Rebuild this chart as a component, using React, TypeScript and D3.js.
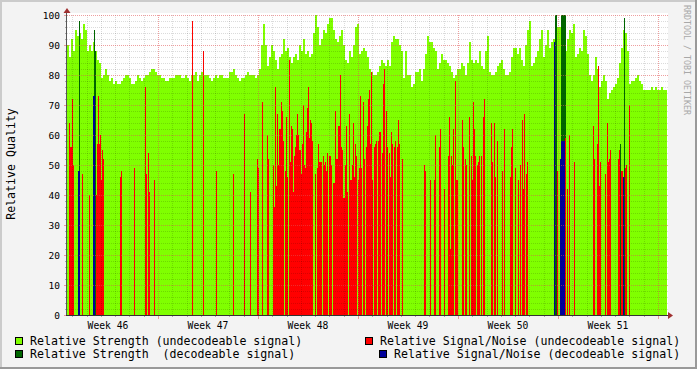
import React from "react";
import * as d3 from "d3";

const W = 697;
const H = 369;
const START_DAY = 0.63; // days after Monday 00:00 of week 46
const STEP_DAYS = 0.07; // one sample step
const BIN = 2; // strength samples cover two steps
const N_STEPS = 600;

// Relative Strength (undecodeable signal), one value per 2 steps
const strength = [
  90, 86, 92, 88, 95, 93, 94, 92, 97, 95,
  88, 90, 88, 91, 88, 85, 84, 79, 80, 82,
  80, 78, 79, 77, 78, 77, 77, 78, 79, 80,
  80, 79, 77, 77, 78, 80, 79, 78, 79, 80,
  80, 81, 82, 82, 81, 80, 80, 79, 79, 78,
  78, 79, 79, 79, 80, 80, 80, 79, 79, 80,
  79, 78, 80, 80, 81, 78, 80, 81, 80, 80,
  80, 79, 78, 79, 80, 79, 80, 80, 79, 79,
  79, 81, 81, 82, 80, 79, 78, 79, 79, 80,
  81, 80, 80, 80, 79, 80, 82, 90, 97, 90,
  83, 86, 90, 88, 85, 82, 86, 87, 92, 88,
  89, 86, 84, 86, 87, 85, 90, 88, 92, 87,
  88, 86, 87, 94, 100, 96, 90, 92, 95, 94,
  97, 99, 99, 95, 92, 91, 93, 95, 90, 85,
  84, 88, 86, 90, 96, 97, 87, 88, 89, 88,
  86, 82, 81, 80, 80, 81, 83, 85, 84, 83,
  85, 83, 91, 93, 92, 92, 90, 88, 79, 88,
  80, 80, 76, 77, 81, 81, 82, 78, 82, 87,
  93, 91, 91, 89, 88, 82, 84, 87, 85, 85,
  84, 83, 81, 79, 80, 82, 82, 84, 83, 80,
  84, 91, 85, 84, 85, 84, 88, 83, 82, 88,
  93, 81, 80, 80, 81, 83, 84, 85, 82, 80,
  80, 81, 86, 89, 89, 87, 89, 85, 83, 90,
  95, 98, 83, 84, 86, 88, 92, 95, 86, 90,
  95, 89, 91, 92, 96, 96, 96, 96, 96, 88,
  92, 95, 94, 97, 86, 87, 89, 88, 95, 93,
  87, 80, 78, 80, 86, 82, 76, 78, 80, 78,
  72, 74, 75, 76, 77, 79, 84, 89, 95, 94,
  88, 77, 78, 78, 79, 80, 78, 77, 75, 75,
  75, 75, 76, 75, 76, 75, 75, 76, 75, 75,
];

// Relative Signal/Noise (undecodeable signal): [step, value]
const snrUndecodeable: [number, number][] = [
  [2, 64], [3, 56], [4, 56], [5, 72], [6, 50], [15, 47], [22, 40], [27, 59], [29, 40], [30, 57],
  [31, 73], [32, 57], [33, 60], [34, 45], [35, 55], [36, 52], [53, 46], [54, 48], [67, 49], [78, 76],
  [79, 47], [81, 54], [82, 41], [87, 45],
  [125, 98], [136, 88], [149, 48], [166, 47], [177, 67], [183, 41], [190, 52], [191, 49],
  [195, 71], [200, 60], [201, 52], [206, 50], [207, 36], [208, 76], [209, 43], [210, 67], [211, 50],
  [212, 62], [213, 62], [214, 71], [215, 68], [216, 58], [218, 48], [219, 66], [220, 46], [222, 85],
  [223, 51], [224, 63], [225, 62], [226, 41], [227, 53], [228, 56], [229, 60], [230, 67], [231, 60],
  [232, 55], [233, 55], [234, 47], [235, 57], [236, 70], [237, 50], [238, 49], [239, 61], [240, 69],
  [241, 76], [242, 59], [243, 65], [244, 64], [245, 58], [248, 47], [250, 49], [251, 57], [252, 51],
  [253, 51], [254, 51], [256, 53], [257, 50], [258, 51], [259, 48], [260, 54], [262, 53], [263, 53],
  [264, 50], [266, 44], [267, 44], [268, 68], [269, 52], [270, 52], [271, 63], [272, 63], [273, 80],
  [274, 56], [275, 55], [276, 39], [277, 39], [278, 50], [279, 63], [280, 41], [282, 67], [283, 45],
  [284, 45], [285, 50], [286, 64], [287, 46], [288, 57], [289, 53], [291, 45], [292, 49], [293, 73],
  [294, 49], [296, 71], [297, 52], [299, 56], [300, 63], [301, 72], [302, 75], [303, 57], [304, 81],
  [305, 45], [307, 56], [308, 57], [309, 58], [311, 58], [312, 61], [313, 61], [315, 54], [316, 77],
  [317, 82], [319, 68], [320, 56], [322, 54], [323, 46], [324, 61], [325, 57], [327, 56], [328, 58],
  [330, 56], [331, 65], [332, 57], [335, 52], [357, 50],
  [358, 48], [363, 45], [367, 45], [368, 60], [372, 56], [373, 62], [377, 42], [381, 53], [382, 66],
  [383, 22], [384, 53], [385, 50], [386, 62], [388, 78], [389, 45], [390, 45],
  [395, 65], [396, 56], [398, 52], [399, 50], [402, 66], [404, 53], [405, 45], [406, 71], [407, 62],
  [408, 53], [410, 50], [411, 51], [412, 53], [414, 53], [416, 66], [417, 72], [424, 64], [425, 51],
  [427, 64], [428, 46], [430, 58], [435, 48], [437, 62], [443, 46], [444, 56], [445, 62], [448, 49],
  [451, 45], [453, 50], [455, 65], [456, 42], [457, 67], [459, 47], [460, 51],
  [490, 48], [498, 59], [500, 42], [502, 60], [507, 51], [526, 63], [527, 52], [530, 57], [531, 83],
  [532, 43], [533, 51], [538, 47], [540, 64], [541, 51], [542, 52], [543, 55], [551, 52], [552, 55],
  [554, 48], [555, 48], [558, 49], [559, 50], [562, 70],
];

// Relative Strength (decodeable signal): [step, value]
const strengthDecodeable: [number, number][] = [
  [12, 98], [27, 95], [28, 88], [488, 100], [489, 100], [494, 100], [495, 100], [496, 100],
  [497, 100], [498, 100], [553, 57], [557, 99],
];

// Relative Signal/Noise (decodeable signal): [step, value]
const snrDecodeable: [number, number][] = [
  [11, 48], [12, 48], [26, 73], [27, 73], [487, 91], [493, 52], [494, 58], [495, 58], [496, 58],
  [497, 58], [556, 46],
];

const weekLabels = ["Week 46", "Week 47", "Week 48", "Week 49", "Week 50", "Week 51"];
const yTicks = [0, 10, 20, 30, 40, 50, 60, 70, 80, 90, 100];

const legendItems = [
  { label: "Relative Strength (undecodeable signal)", color: "#80ff00" },
  { label: "Relative Signal/Noise (undecodeable signal)", color: "#ff0000" },
  { label: "Relative Strength  (decodeable signal)", color: "#006600" },
  { label: "Relative Signal/Noise (decodeable signal)", color: "#000099" },
];

const FONT = "'DejaVu Sans Mono', monospace";

export default function App() {
  const endDay = START_DAY + N_STEPS * STEP_DAYS;
  const x = d3.scaleLinear().domain([START_DAY, endDay]).range([67, 667]);
  const y = d3.scaleLinear().domain([0, 100]).range([315, 15]);
  const dayOf = (step: number) => START_DAY + step * STEP_DAYS;

  const pts: [number, number][] = strength.map((v, i) => [dayOf(i * BIN), v]);
  pts.push([dayOf(Math.min(strength.length * BIN, N_STEPS)), strength[strength.length - 1]]);
  const area = d3
    .area<[number, number]>()
    .x((d) => x(d[0]))
    .y0(y(0))
    .y1((d) => y(d[1]))
    .curve(d3.curveStepAfter);

  const bars = (data: [number, number][], color: string, key: string) =>
    data.map(([s, v]) => {
      const x0 = x(dayOf(s));
      const x1 = x(dayOf(s + 1));
      return (
        <rect key={key + s} x={x0} y={y(v)} width={x1 - x0} height={y(0) - y(v)} fill={color} shapeRendering="crispEdges" />
      );
    });

  const days: number[] = [];
  for (let d = Math.ceil(START_DAY); d <= endDay; d++) days.push(d);
  const hMinor: number[] = [];
  for (let v = 2; v <= 100; v += 2) if (v % 10 !== 0) hMinor.push(v);

  const minorStroke = "rgba(0,0,0,0.14)";
  const majorStroke = "rgba(224,80,80,0.55)";

  return (
    <svg
      width={W}
      height={H}
      style={{ position: "absolute", left: 0, top: 0 }}
      fontFamily={FONT}
    >
      <rect x={0} y={0} width={W} height={H} fill="#f3f3f3" />
      <rect x={0} y={0} width={W} height={2} fill="#cbcbcb" />
      <rect x={0} y={0} width={2} height={H} fill="#cbcbcb" />
      <rect x={0} y={H - 2} width={W} height={2} fill="#999999" />
      <rect x={W - 2} y={0} width={2} height={H} fill="#999999" />

      <rect x={67} y={13} width={601} height={302} fill="#ffffff" />

      <path d={area(pts) || ""} fill="#80ff00" shapeRendering="crispEdges" />
      {bars(strengthDecodeable, "#006600", "dg")}
      {bars(snrUndecodeable, "#ff0000", "r")}
      {bars(snrDecodeable, "#000099", "b")}

      {/* grid */}
      <g shapeRendering="crispEdges">
        {hMinor.map((v) => (
          <line key={"hm" + v} x1={67} x2={668} y1={y(v) + 0.5} y2={y(v) + 0.5} stroke={minorStroke} strokeDasharray="1,1" />
        ))}
        {days
          .filter((d) => d % 7 !== 0)
          .map((d) => (
            <line key={"vm" + d} x1={Math.round(x(d)) + 0.5} x2={Math.round(x(d)) + 0.5} y1={15} y2={315} stroke={minorStroke} strokeDasharray="1,1" />
          ))}
        {yTicks
          .filter((v) => v > 0)
          .map((v) => (
            <line key={"hM" + v} x1={67} x2={668} y1={y(v) + 0.5} y2={y(v) + 0.5} stroke={majorStroke} strokeDasharray="1,1" />
          ))}
        {days
          .filter((d) => d % 7 === 0)
          .map((d) => (
            <line key={"vM" + d} x1={Math.round(x(d)) + 0.5} x2={Math.round(x(d)) + 0.5} y1={15} y2={315} stroke={majorStroke} strokeDasharray="1,1" />
          ))}
        {/* ticks */}
        {days.map((d) => (
          <line
            key={"xt" + d}
            x1={Math.round(x(d)) + 0.5}
            x2={Math.round(x(d)) + 0.5}
            y1={315}
            y2={d % 7 === 0 ? 319 : 317}
            stroke={d % 7 === 0 ? majorStroke : "rgba(0,0,0,0.3)"}
          />
        ))}
        {yTicks.map((v) => (
          <line key={"yt" + v} x1={64} x2={67} y1={y(v) + 0.5} y2={y(v) + 0.5} stroke={majorStroke} />
        ))}
        {hMinor.map((v) => (
          <line key={"ytm" + v} x1={65} x2={67} y1={y(v) + 0.5} y2={y(v) + 0.5} stroke="rgba(0,0,0,0.3)" />
        ))}
        {/* axes */}
        <line x1={66.5} x2={66.5} y1={315} y2={12} stroke="#555" />
        <line x1={66} x2={668} y1={315.5} y2={315.5} stroke="#333" />
      </g>
      <polygon points="63.5,13 70.5,13 67,8" fill="#a03030" />
      <polygon points="668,312 668,319 673,315.5" fill="#a03030" />

      {/* y tick labels */}
      {yTicks.map((v) => (
        <text key={"yl" + v} x={60} y={y(v) + 3.5} fontSize={9.5} textAnchor="end" fill="#000">
          {v}
        </text>
      ))}
      {/* week labels */}
      {weekLabels.map((w, i) => (
        <text key={w} x={x(3.5 + 7 * i)} y={328.5} fontSize={9.7} textAnchor="middle" fill="#000">
          {w}
        </text>
      ))}

      {/* y axis title */}
      <text transform="translate(15,164) rotate(-90)" fontSize={11.6} textAnchor="middle" fill="#000">
        Relative Quality
      </text>

      {/* watermark */}
      <text transform="translate(684,5) rotate(90)" fontSize={8.3} fill="#a8a8a8">
        RRDTOOL / TOBI OETIKER
      </text>

      {/* legend */}
      {[
        { ...legendItems[0], bx: 15, tx: 30, by: 337, ty: 344.5 },
        { ...legendItems[1], bx: 365, tx: 380, by: 337, ty: 344.5 },
        { ...legendItems[2], bx: 15, tx: 30, by: 350, ty: 357.5 },
        { ...legendItems[3], bx: 379, tx: 394, by: 350, ty: 357.5 },
      ].map((it) => (
        <g key={it.label}>
          <rect x={it.bx + 0.5} y={it.by + 0.5} width={7} height={7} fill={it.color} stroke="#000" strokeWidth={1} shapeRendering="crispEdges" />
          <text x={it.tx} y={it.ty} fontSize={11.6} fill="#000" style={{ whiteSpace: "pre" }} xmlSpace="preserve">
            {it.label}
          </text>
        </g>
      ))}
    </svg>
  );
}
